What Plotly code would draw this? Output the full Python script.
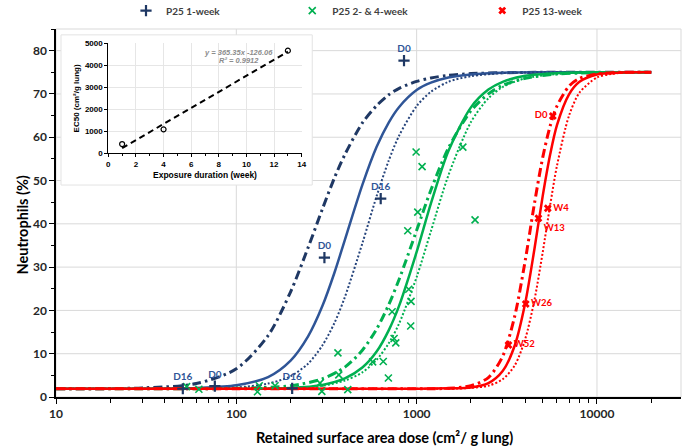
import plotly.graph_objects as go

# ---------------- data ----------------
dose_blue = [10, 30, 60, 100, 150, 200, 250, 300, 350, 400, 500, 600, 700, 800, 1000, 1200, 1500, 2000, 3000, 5000, 10000, 20000]
blue_dashdot = [1.9, 2.1, 3.1, 6.5, 14.2, 24.3, 34.5, 43.4, 50.6, 56.0, 63.3, 67.3, 69.8, 71.3, 72.9, 73.7, 74.3, 74.7, 74.9, 75.0, 75.0, 75.0]
blue_solid = [1.9, 1.9, 2.1, 2.7, 4.6, 8.4, 14.0, 21.0, 28.7, 36.3, 49.0, 57.8, 63.4, 67.0, 70.9, 72.6, 73.8, 74.5, 74.9, 75.0, 75.0, 75.0]
blue_dotted = [1.9, 1.9, 2.0, 2.2, 3.1, 4.8, 7.7, 11.9, 17.1, 23.1, 35.5, 46.4, 54.6, 60.4, 67.2, 70.5, 72.8, 74.1, 74.8, 75.0, 75.0, 75.0]

dose_green = [10, 50, 100, 200, 300, 400, 500, 600, 700, 800, 1000, 1200, 1500, 2000, 2500, 3000, 4000, 6000, 10000, 20000]
green_dashdot = [1.9, 1.9, 2.0, 2.6, 4.2, 6.9, 10.8, 15.7, 21.3, 27.2, 38.5, 47.8, 57.5, 66.1, 70.0, 72.0, 73.6, 74.6, 74.9, 75.0]
green_solid = [1.9, 1.9, 1.9, 2.1, 2.8, 4.3, 6.8, 10.5, 15.4, 21.1, 33.5, 44.7, 56.8, 66.9, 71.0, 72.8, 74.2, 74.8, 75.0, 75.0]
green_dotted = [1.9, 1.9, 1.9, 2.1, 2.6, 3.8, 5.7, 8.6, 12.4, 17.0, 27.7, 38.3, 51.2, 63.5, 69.0, 71.6, 73.6, 74.6, 75.0, 75.0]

dose_red = [10, 100, 1000, 1500, 2000, 2500, 3000, 3500, 4000, 4500, 5000, 5500, 6000, 7000, 8000, 10000, 12000, 15000, 20000]
red_dashdot = [1.9, 1.9, 1.9, 2.0, 2.6, 4.5, 9.4, 18.7, 31.5, 44.7, 55.3, 62.6, 67.2, 71.8, 73.6, 74.6, 74.9, 75.0, 75.0]
red_solid = [1.9, 1.9, 1.9, 2.0, 2.2, 3.2, 6.0, 11.9, 21.7, 34.2, 46.4, 56.0, 62.8, 69.9, 72.8, 74.5, 74.8, 75.0, 75.0]
red_dotted = [1.9, 1.9, 1.9, 1.9, 2.1, 2.6, 4.1, 7.3, 13.4, 22.4, 33.4, 44.3, 53.4, 65.0, 70.3, 73.8, 74.6, 75.0, 75.0]

blue_x = [851, 308, 632, 50.5, 76, 204]
blue_y = [77.7, 32.2, 45.8, 1.9, 2.5, 2.0]
blue_labels = ["D0", "D0", "D16", "D16", "D0", "D16"]

green_x = [53, 62, 131, 134, 164, 291, 298, 366, 370, 415, 570, 653, 697, 731, 750, 766,
           893, 904, 927, 931, 993, 1014, 1072, 1804, 2108]
green_y = [2.4, 1.8, 1.2, 2.6, 2.6, 3.2, 1.3, 10.2, 5.1, 1.7, 8.1, 8.2, 4.4, 19.7, 13.5, 12.5,
           38.4, 24.9, 16.4, 22.1, 56.6, 42.7, 53.2, 57.7, 40.9]

red_x = [5690, 5336, 4733, 4027, 3230]
red_y = [64.9, 43.6, 41.3, 21.5, 12.0]
red_labels = ["D0", "W4", "W13", "W26", "W52"]
red_label_pos = ["middle left", "middle right", "bottom right", "middle right", "middle right"]

legend_names = ["P25 1-week", "P25 2- & 4-week", "P25 13-week"]

# inset
weeks = [1, 4, 13]
ec50 = [424, 1091, 4667]
trend_weeks = [1, 13]
trend_ec50 = [240, 4620]
trend_eq = "y = 365.35x -126.06"
trend_r2 = "R² = 0.9912"

x_ticks = [10, 100, 1000, 10000]
y_ticks = [0, 10, 20, 30, 40, 50, 60, 70, 80]

# ---------------- styling ----------------
BLUE_DARK = "#1F3864"
BLUE = "#2F5597"
GREEN = "#00B050"
RED = "#FF0000"
MAIN_FONT = "Lato"
INSET_FONT = "Liberation Sans"
DASHDOT = "9px,4px,2.5px,4px"

fig = go.Figure()

def curve(x, y, color, dash, width):
    fig.add_trace(go.Scatter(x=x, y=y, mode="lines", showlegend=False, hoverinfo="skip",
                             line=dict(color=color, dash=dash, width=width, shape="spline", smoothing=0.8)))

curve(dose_blue, blue_dashdot, BLUE_DARK, DASHDOT, 3)
curve(dose_blue, blue_solid, BLUE, "solid", 2.5)
curve(dose_blue, blue_dotted, "#26447C", "2px,2px", 2)
curve(dose_green, green_dashdot, GREEN, DASHDOT, 3)
curve(dose_green, green_solid, GREEN, "solid", 2.5)
curve(dose_green, green_dotted, GREEN, "2px,2px", 2)
curve(dose_red, red_dashdot, RED, DASHDOT, 3)
curve(dose_red, red_solid, RED, "solid", 2.5)
curve(dose_red, red_dotted, RED, "2px,2px", 2)

fig.add_trace(go.Scatter(x=green_x, y=green_y, mode="markers", name=legend_names[1], legend="legend2",
                         marker=dict(symbol="x-thin", size=7, color=GREEN, line=dict(color=GREEN, width=1.6))))
fig.add_trace(go.Scatter(x=blue_x, y=blue_y, mode="markers+text", name=legend_names[0], legend="legend",
                         text=blue_labels, textposition="top center",
                         textfont=dict(family=MAIN_FONT, size=10, color=BLUE, weight="bold"),
                         marker=dict(symbol="cross-thin", size=8, color=BLUE_DARK, line=dict(color=BLUE_DARK, width=2.2))))
fig.add_trace(go.Scatter(x=red_x, y=red_y, mode="markers+text", name=legend_names[2], legend="legend3",
                         text=red_labels, textposition=red_label_pos,
                         textfont=dict(family=MAIN_FONT, size=9.5, color=RED, weight="bold"),
                         marker=dict(symbol="x", size=7, color=RED, line=dict(width=0))))

# inset traces
fig.add_trace(go.Scatter(x=trend_weeks, y=trend_ec50, mode="lines", xaxis="x2", yaxis="y2", showlegend=False,
                         line=dict(color="black", dash="6px,4px", width=2)))
fig.add_trace(go.Scatter(x=weeks, y=ec50, mode="markers", xaxis="x2", yaxis="y2", showlegend=False,
                         marker=dict(symbol="circle-open", size=5, color="black", line=dict(width=1.2))))

# ---------------- gridlines / frames as shapes (so inset box covers them) ----------------
GRID = "#D9D9D9"
shapes = []
for v in y_ticks[1:]:
    shapes.append(dict(type="line", xref="paper", x0=0, x1=1, yref="y", y0=v, y1=v,
                       line=dict(color=GRID, width=1), layer="below"))
for v in x_ticks[1:]:
    shapes.append(dict(type="line", xref="x", x0=v, x1=v, yref="paper", y0=0, y1=1,
                       line=dict(color=GRID, width=1), layer="below"))
shapes.append(dict(type="rect", xref="paper", yref="paper", x0=0, x1=1, y0=0, y1=1,
                   line=dict(color=GRID, width=1), layer="below"))
shapes.append(dict(type="rect", xref="paper", yref="paper", x0=0.008, x1=0.41, y0=0.576, y1=0.984,
                   fillcolor="white", line=dict(color="#E3E3E3", width=1), layer="below"))

minor_x = [m * 10 ** e for e in range(1, 5) for m in range(2, 10)]

tickfont = dict(family=MAIN_FONT, size=12, color="#262626", weight="bold")
inset_tick = dict(family=INSET_FONT, size=8, color="black", weight="bold")

legend_common = dict(orientation="h", yanchor="middle", y=1.05, xanchor="left", itemwidth=30,
                     bgcolor="rgba(0,0,0,0)", font=dict(family=MAIN_FONT, size=10, color="#404040", weight="bold"))

fig.update_layout(
    width=685, height=446,
    margin=dict(l=56, r=4, t=29, b=49, autoexpand=False),
    paper_bgcolor="white", plot_bgcolor="rgba(0,0,0,0)",
    shapes=shapes,
    xaxis=dict(type="log", range=[1, 4.466], tickvals=x_ticks, ticktext=[str(v) for v in x_ticks],
               ticks="outside", ticklen=5, tickcolor="black", showline=True, linecolor="black", linewidth=1.5,
               showgrid=False, zeroline=False, tickfont=tickfont,
               minor=dict(tickvals=minor_x, ticks="outside", ticklen=4, tickcolor="black", showgrid=False)),
    yaxis=dict(range=[0, 85], tickvals=y_ticks, ticks="outside", ticklen=5, tickcolor="black",
               showline=True, linecolor="black", linewidth=1.5, showgrid=False, zeroline=False, tickfont=tickfont,
               minor=dict(dtick=5, ticks="outside", ticklen=3, tickcolor="black", showgrid=False)),
    xaxis2=dict(domain=[0.0837, 0.3931], anchor="y2", range=[0, 14], dtick=2, tick0=0,
                ticks="outside", ticklen=3, tickcolor="black", showline=True, linecolor="black", linewidth=1,
                showgrid=True, gridcolor="#E6E6E6", zeroline=False, tickfont=inset_tick,
                minor=dict(dtick=1, ticks="outside", ticklen=2, tickcolor="black", showgrid=False),
                title=dict(text="Exposure duration (week)", font=dict(family=INSET_FONT, size=8.5, color="black", weight="bold"), standoff=4)),
    yaxis2=dict(domain=[0.662, 0.961], anchor="x2", range=[0, 5000], dtick=1000,
                ticks="outside", ticklen=3, tickcolor="black", showline=True, linecolor="black", linewidth=1,
                showgrid=True, gridcolor="#E6E6E6", zeroline=False, tickfont=inset_tick,
                title=dict(text="EC50 (cm²/g lung)", font=dict(family=INSET_FONT, size=8, color="black", weight="bold"), standoff=4)),
    legend=dict(legend_common, x=0.112),
    legend2=dict(legend_common, x=0.378),
    legend3=dict(legend_common, x=0.682),
    annotations=[
        dict(text="Retained surface area dose (cm²/ g lung)", xref="paper", yref="paper", x=0.526, y=-0.109,
             showarrow=False, xanchor="center", yanchor="middle",
             font=dict(family=MAIN_FONT, size=14.5, color="black", weight="bold")),
        dict(text="Neutrophils (%)", xref="paper", yref="paper", x=-0.054, y=0.467, textangle=-90,
             showarrow=False, xanchor="center", yanchor="middle",
             font=dict(family=MAIN_FONT, size=14.5, color="black", weight="bold")),
        dict(text=trend_eq, xref="x2", yref="y2", x=9.46, y=4600, showarrow=False,
             font=dict(family=INSET_FONT, size=7.5, color="#8C8C8C", weight="bold", style="italic")),
        dict(text=trend_r2, xref="x2", yref="y2", x=9.46, y=4230, showarrow=False,
             font=dict(family=INSET_FONT, size=7.5, color="#8C8C8C", weight="bold", style="italic")),
    ],
)

fig.write_html("out.html", config={"displayModeBar": False},
               post_script="document.body.style.margin='0';")
